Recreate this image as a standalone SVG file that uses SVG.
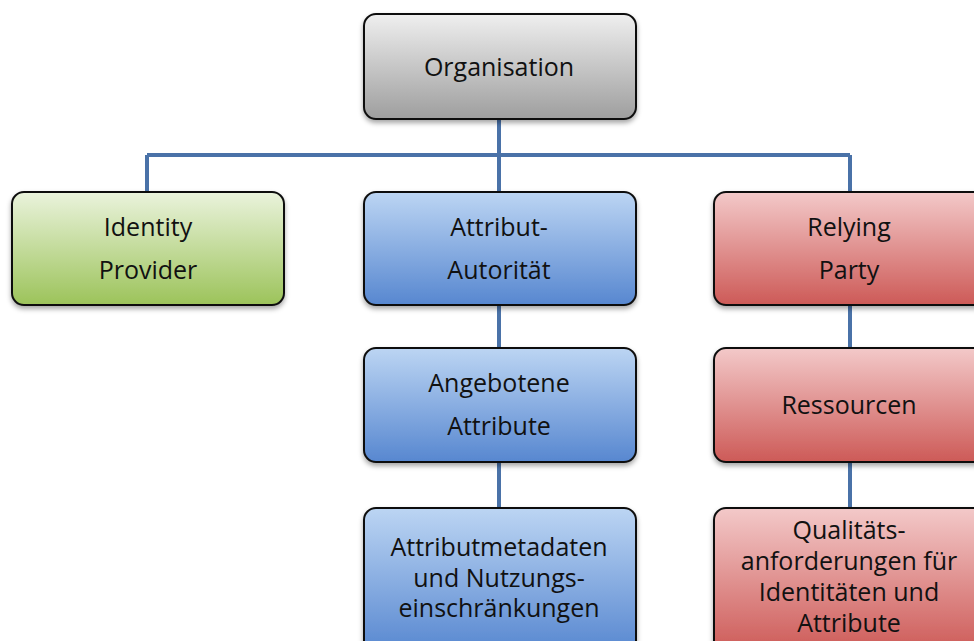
<svg xmlns="http://www.w3.org/2000/svg" width="974" height="641" viewBox="0 0 974 641">
  <defs>
    <linearGradient id="gGray" x1="0" y1="0" x2="0" y2="1">
      <stop offset="0" stop-color="#efefef"/>
      <stop offset="1" stop-color="#9e9e9e"/>
    </linearGradient>
    <linearGradient id="gGreen" x1="0" y1="0" x2="0" y2="1">
      <stop offset="0" stop-color="#eaf3dc"/>
      <stop offset="1" stop-color="#9cc35a"/>
    </linearGradient>
    <linearGradient id="gBlue" x1="0" y1="0" x2="0" y2="1">
      <stop offset="0" stop-color="#bcd5f3"/>
      <stop offset="1" stop-color="#5787d0"/>
    </linearGradient>
    <linearGradient id="gRed" x1="0" y1="0" x2="0" y2="1">
      <stop offset="0" stop-color="#f3c9c9"/>
      <stop offset="1" stop-color="#cd5a57"/>
    </linearGradient>
    <filter id="shadow" x="-10%" y="-10%" width="120%" height="130%">
      <feDropShadow dx="0" dy="3" stdDeviation="2.5" flood-color="#000" flood-opacity="0.35"/>
    </filter>
  </defs>
  <style>
    .box { stroke: #111; stroke-width: 2; filter: url(#shadow); }
    .lbl { font-family: "Open Sans", "Liberation Sans", sans-serif; font-size: 25px; fill: #111; text-anchor: middle; dominant-baseline: central; }
    .conn { stroke: #4a72a8; stroke-width: 4; fill: none; }
  </style>
  <rect width="974" height="641" fill="#ffffff"/>

  <g id="connectors">
    <path class="conn" d="M499 119 V192"/>
    <path class="conn" d="M147 155 H850"/>
    <path class="conn" d="M147 155 V192"/>
    <path class="conn" d="M850 155 V192"/>
    <path class="conn" d="M499 305 V348"/>
    <path class="conn" d="M499 462 V508"/>
    <path class="conn" d="M850 305 V348"/>
    <path class="conn" d="M850 462 V508"/>
  </g>

  <g id="organisation">
    <rect class="box" x="364" y="14" width="272" height="105" rx="12" fill="url(#gGray)"/>
    <text class="lbl" x="499" y="66">Organisation</text>
  </g>

  <g id="identity-provider">
    <rect class="box" x="12" y="192" width="272" height="113" rx="12" fill="url(#gGreen)"/>
    <text class="lbl" x="148" y="226">Identity</text>
    <text class="lbl" x="148" y="269">Provider</text>
  </g>

  <g id="attribut-autoritaet">
    <rect class="box" x="364" y="192" width="272" height="113" rx="12" fill="url(#gBlue)"/>
    <text class="lbl" x="499" y="226">Attribut-</text>
    <text class="lbl" x="499" y="269">Autorität</text>
  </g>

  <g id="relying-party">
    <rect class="box" x="714" y="192" width="272" height="113" rx="12" fill="url(#gRed)"/>
    <text class="lbl" x="849" y="226">Relying</text>
    <text class="lbl" x="849" y="269">Party</text>
  </g>

  <g id="angebotene-attribute">
    <rect class="box" x="364" y="348" width="272" height="114" rx="12" fill="url(#gBlue)"/>
    <text class="lbl" x="499" y="382">Angebotene</text>
    <text class="lbl" x="499" y="425">Attribute</text>
  </g>

  <g id="ressourcen">
    <rect class="box" x="714" y="348" width="272" height="114" rx="12" fill="url(#gRed)"/>
    <text class="lbl" x="849" y="404">Ressourcen</text>
  </g>

  <g id="attributmetadaten">
    <rect class="box" x="364" y="508" width="272" height="145" rx="12" fill="url(#gBlue)"/>
    <text class="lbl" x="499" y="546">Attributmetadaten</text>
    <text class="lbl" x="499" y="577">und Nutzungs-</text>
    <text class="lbl" x="499" y="607">einschränkungen</text>
  </g>

  <g id="qualitaetsanforderungen">
    <rect class="box" x="714" y="508" width="272" height="145" rx="12" fill="url(#gRed)"/>
    <text class="lbl" x="849" y="529">Qualitäts-</text>
    <text class="lbl" x="849" y="560">anforderungen für</text>
    <text class="lbl" x="849" y="591">Identitäten und</text>
    <text class="lbl" x="849" y="622">Attribute</text>
  </g>
</svg>
